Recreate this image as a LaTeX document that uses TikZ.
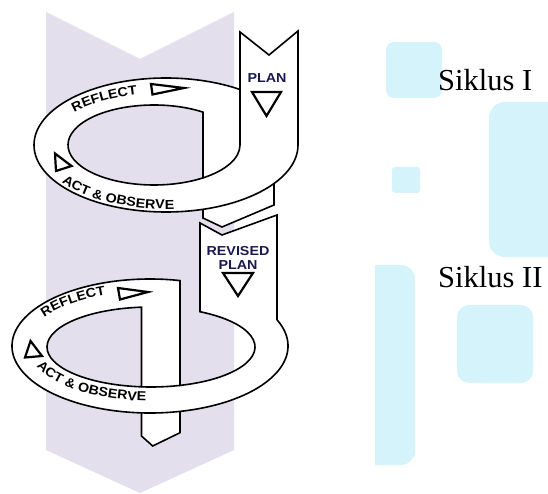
\documentclass[tikz,border=0pt]{standalone}
\usepackage{fontspec}
\setmainfont{Liberation Serif}
\newfontfamily\lblfont{Liberation Sans}[FakeStretch=1.1]
\usetikzlibrary{decorations.text}
\definecolor{lav}{RGB}{227,223,237}
\definecolor{skyb}{RGB}{213,243,250}
\definecolor{navy}{RGB}{25,25,80}
\newcommand{\lblfmt}{\lblfont\bfseries\fontsize{13}{15}\selectfont}
\begin{document}
\begin{tikzpicture}[x=1pt,y=1pt,
  outl/.style={draw=black, line width=1.6pt, line join=miter},
  tri/.style={draw=black, fill=white, line width=2.2pt, line join=miter},
  lbl/.style={font=\lblfmt, text=navy, inner sep=0pt},
  arclbl/.style={decorate, decoration={text along path, text align=center, text={|\lblfmt|#1}}},
  sik/.style={font=\fontsize{30.5}{34}\selectfont, anchor=base west, inner sep=0pt}
]
\useasboundingbox (0,0) rectangle (548,493);
\clip (0,0) rectangle (548,493);
% background chevron
\fill[lav] (46,481) -- (140,434) -- (234,481) -- (234,43) -- (140,0) -- (46,43) -- cycle;
% light blue rounded shapes
\fill[skyb, rounded corners=8pt] (386,395) rectangle (442,451);
\fill[skyb, rounded corners=16pt] (489,236) rectangle (570,391);
\fill[skyb, rounded corners=3pt] (392,300) rectangle (420,326);
\fill[skyb, rounded corners=12pt] (457,110) rectangle (533,188);
\begin{scope}
  \clip (375,0) rectangle (548,493);
  \fill[skyb, rounded corners=14pt] (355,28) rectangle (415,228);
\end{scope}
% lower band of cycle I (behind)
\path[fill=white] (203,330) -- (203,275) -- (222,266) -- (274,288) -- (274,330) -- cycle;
\draw[outl] (203,330) -- (203,275) -- (222,266) -- (274,288) -- (274,330);
% cycle I: plan band + ring
\path[outl, fill=white, even odd rule]
  (240,461) -- (269,438) -- (298,462) -- (298,348)
  arc[start angle=0, end angle=-304.10, x radius=132pt, y radius=67pt] -- cycle
  (203,380.87) arc[start angle=55.26, end angle=304.74, x radius=86pt, y radius=40pt] -- cycle;
\draw[outl] (240,403.48) -- (240,348)
  arc[start angle=0, end angle=-55.26, x radius=86pt, y radius=40pt];
% final band (behind cycle II)
\path[fill=white] (141.5,100) -- (141.5,57) -- (152.7,47) -- (180,60.3) -- (180,100) -- cycle;
\draw[outl] (141.5,100) -- (141.5,57) -- (152.7,47) -- (180,60.3) -- (180,100);
% cycle II: revised plan band + ring
\path[outl, fill=white, even odd rule]
  (200,270) -- (222,258) -- (277,278) -- (277,173.22)
  arc[start angle=23.03, end angle=-282.56, x radius=138pt, y radius=67pt]
  -- (180,107.59)
  arc[start angle=-73.81, end angle=61.89, x radius=104pt, y radius=40pt] -- cycle
  (141.5,185.83) arc[start angle=95.24, end angle=264.76, x radius=104pt, y radius=40pt] -- cycle;
\draw[outl] (141.5,106.17)
  arc[start angle=264.76, end angle=286.19, x radius=104pt, y radius=40pt];
% triangles
\draw[tri] (252,401) -- (281,401) -- (266.5,377) -- cycle;
\draw[tri] (223,220) -- (253,220) -- (238,197) -- cycle;
\draw[tri] (151,409) -- (152.5,398.5) -- (184,405) -- cycle;
\draw[tri] (55,339.5) -- (56,322) -- (71.5,327) -- cycle;
\draw[tri] (118,205) -- (120,193.5) -- (148,201) -- cycle;
\draw[tri] (30.5,152) -- (25,135.5) -- (42,137) -- cycle;
% labels
\node[lbl] (plan1) at (267,415) {PLAN};
\node[lbl] (rev2) at (238,241.5) {REVISED};
\node[lbl] (plan2) at (238,228) {PLAN};
\path[arclbl={REFLECT}] (166,346) ++(146:119pt and 54pt)
  arc[start angle=146, end angle=100, x radius=119pt, y radius=54pt];
\path[arclbl={ACT {\&} OBSERVE}] (166,348) ++(206:128pt and 64pt)
  arc[start angle=206, end angle=280, x radius=128pt, y radius=64pt];
\path[arclbl={REFLECT}] (150,146) ++(152:125pt and 56pt)
  arc[start angle=152, end angle=108, x radius=125pt, y radius=56pt];
\path[arclbl={ACT {\&} OBSERVE}] (150,147) ++(186:122pt and 55pt)
  arc[start angle=186, end angle=276, x radius=122pt, y radius=55pt];
% cycle names
\node[sik] (s1) at (438,402) {Siklus I};
\node[sik] (s2) at (438,206) {Siklus II};
\end{tikzpicture}
\end{document}
